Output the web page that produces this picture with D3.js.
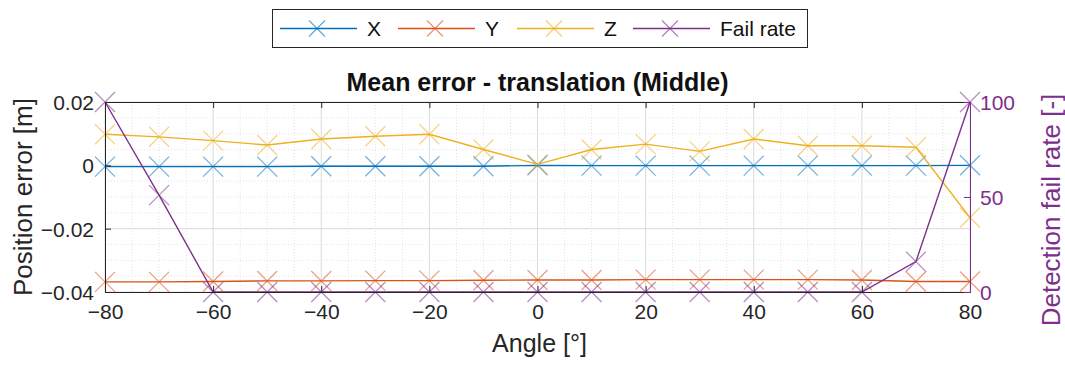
<!DOCTYPE html>
<html>
<head>
<meta charset="utf-8">
<script src="https://cdn.jsdelivr.net/npm/d3@7"></script>
<style>
  html, body { margin: 0; padding: 0; background: #fff; }
  svg { display: block; font-family: "Liberation Sans", Arial, sans-serif; }
</style>
</head>
<body>
<svg id="chart" width="1065" height="372"></svg>
<script>
// Angles (degrees) at which the mean errors were measured
const angles = [-80, -70, -60, -50, -40, -30, -20, -10, 0, 10, 20, 30, 40, 50, 60, 70, 80];

// Mean translation error per axis [m]
const errX = [-0.0004, -0.0004, -0.0004, -0.0004, -0.0003, -0.0003, -0.0003, -0.0003, 0.0, -0.0001, -0.0001, -0.0001, -0.0001, -0.0001, -0.0001, -0.0001, 0.0];
const errY = [-0.0368, -0.0368, -0.0367, -0.0365, -0.0365, -0.0364, -0.0364, -0.0363, -0.0362, -0.0362, -0.0361, -0.0361, -0.0361, -0.0361, -0.0362, -0.0367, -0.0367];
const errZ = [0.0098, 0.0090, 0.0078, 0.0064, 0.0083, 0.0092, 0.0098, 0.0050, 0.0003, 0.0050, 0.0067, 0.0044, 0.0083, 0.0062, 0.0062, 0.0057, -0.0165];

// Detection fail rate per angle [%]
const failRate = [100, 51, 0, 0, 0, 0, 0, 0, 0, 0, 0, 0, 0, 0, 0, 16, 100];

// Axis ticks
const xTicks = [-80, -60, -40, -20, 0, 20, 40, 60, 80];
const yLeftTicks = [-0.04, -0.02, 0, 0.02];
const yRightTicks = [0, 50, 100];

const legendLabels = ["X", "Y", "Z", "Fail rate"];
const colors = ["#0072BD", "#D95319", "#EDB120", "#7E2F8E"];

const svg = d3.select("#chart");
const L = 105, R = 970, T = 102, B = 292;
const FONT = "Liberation Sans, Arial, sans-serif";

const x = d3.scaleLinear().domain([-80, 80]).range([L, R]);
const yL = d3.scaleLinear().domain([-0.04, 0.02]).range([B, T]);
const yR = d3.scaleLinear().domain([0, 100]).range([B, T]);

// Plot background
svg.append("rect").attr("x", L).attr("y", T).attr("width", R - L).attr("height", B - T).attr("fill", "#fff");

// Minor grid
const grid = svg.append("g");
d3.range(-80, 80.1, 5).filter(v => v % 20 !== 0).forEach(v => {
  grid.append("line").attr("x1", x(v)).attr("x2", x(v)).attr("y1", T).attr("y2", B)
    .attr("stroke", "#e4e4e4").attr("stroke-width", 1).attr("stroke-dasharray", "1,2");
});
d3.range(-0.04, 0.0201, 0.005).forEach(v => {
  const r = Math.round(v * 1000) / 1000;
  if (Math.abs(Math.round(r / 0.02) * 0.02 - r) < 1e-9) return;
  grid.append("line").attr("x1", L).attr("x2", R).attr("y1", yL(r)).attr("y2", yL(r))
    .attr("stroke", "#e4e4e4").attr("stroke-width", 1).attr("stroke-dasharray", "1,2");
});
// Major grid
xTicks.forEach(v => {
  grid.append("line").attr("x1", x(v)).attr("x2", x(v)).attr("y1", T).attr("y2", B)
    .attr("stroke", "#dadada").attr("stroke-width", 1);
});
yLeftTicks.forEach(v => {
  grid.append("line").attr("x1", L).attr("x2", R).attr("y1", yL(v)).attr("y2", yL(v))
    .attr("stroke", "#dadada").attr("stroke-width", 1);
});

// Series drawing: line plus 'x' markers
function drawSeries(values, yScale, color) {
  const g = svg.append("g");
  const pts = angles.map((a, i) => [a, values[i]]);
  g.append("path")
    .datum(pts)
    .attr("fill", "none")
    .attr("stroke", color)
    .attr("stroke-width", 1.4)
    .attr("d", d3.line().x(d => x(d[0])).y(d => yScale(d[1])));
  const s = 10;
  g.selectAll("path.mk").data(pts).join("path")
    .attr("class", "mk")
    .attr("d", d => {
      const cx = x(d[0]), cy = yScale(d[1]);
      return `M${cx - s},${cy - s}L${cx + s},${cy + s}M${cx - s},${cy + s}L${cx + s},${cy - s}`;
    })
    .attr("stroke", color).attr("stroke-width", 1.3).attr("stroke-opacity", 0.55).attr("fill", "none");
}
drawSeries(errX, yL, colors[0]);
drawSeries(errY, yL, colors[1]);
drawSeries(errZ, yL, colors[2]);
drawSeries(failRate, yR, colors[3]);

// Axes
const fs = 21;
const axBottom = d3.axisBottom(x).tickValues(xTicks).tickSize(-6).tickPadding(12).tickFormat(d3.format("d"));
const gB = svg.append("g").attr("transform", `translate(0,${B})`).call(axBottom);
const axTop = d3.axisTop(x).tickValues(xTicks).tickSize(-6).tickFormat("");
const gT = svg.append("g").attr("transform", `translate(0,${T})`).call(axTop);
const axLeft = d3.axisLeft(yL).tickValues(yLeftTicks).tickSize(-6).tickPadding(11)
  .tickFormat(d => d === 0 ? "0" : d3.format(".2f")(d));
const gL = svg.append("g").attr("transform", `translate(${L},0)`).call(axLeft);
const axRight = d3.axisRight(yR).tickValues(yRightTicks).tickSize(-6).tickPadding(10).tickFormat(d3.format("d"));
const gR = svg.append("g").attr("transform", `translate(${R},0)`).call(axRight);

[gB, gT, gL].forEach(g => {
  g.selectAll("path.domain").attr("stroke", "#262626").attr("stroke-width", 1);
  g.selectAll(".tick line").attr("stroke", "#262626");
  g.selectAll("text").attr("font-size", fs).attr("fill", "#262626").attr("font-family", FONT);
});
gR.selectAll("path.domain").attr("stroke", colors[3]).attr("stroke-width", 1);
gR.selectAll(".tick line").attr("stroke", colors[3]);
gR.selectAll("text").attr("font-size", fs).attr("fill", colors[3]).attr("font-family", FONT);
gL.selectAll("text").attr("dy", "0.35em");
gR.selectAll("text").attr("dy", "0.35em");
gB.selectAll("text").attr("dy", "0.71em");

// Title and axis labels
svg.append("text").attr("x", (L + R) / 2).attr("y", 91).attr("text-anchor", "middle")
  .attr("font-size", 25).attr("font-weight", "bold").attr("fill", "#111")
  .text("Mean error - translation (Middle)");
svg.append("text").attr("x", (L + R) / 2 + 2).attr("y", 352).attr("text-anchor", "middle")
  .attr("font-size", 25).attr("fill", "#262626").text("Angle [°]");
svg.append("text").attr("transform", `translate(32,${(T + B) / 2}) rotate(-90)`).attr("text-anchor", "middle")
  .attr("font-size", 26).attr("fill", "#262626").text("Position error [m]");
svg.append("text").attr("transform", `translate(1060,210) rotate(-90)`).attr("text-anchor", "middle")
  .attr("font-size", 26).attr("fill", colors[3]).text("Detection fail rate [-]");

// Legend
const leg = svg.append("g");
leg.append("rect").attr("x", 272.5).attr("y", 9.5).attr("width", 535).attr("height", 38)
  .attr("fill", "#fff").attr("stroke", "#262626").attr("stroke-width", 1);
const legX = [280, 398, 517, 633];
legendLabels.forEach((lab, i) => {
  const x0 = legX[i], cy = 28.5, s = 8;
  leg.append("line").attr("x1", x0).attr("x2", x0 + 77).attr("y1", cy).attr("y2", cy)
    .attr("stroke", colors[i]).attr("stroke-width", 1.4);
  const cx = x0 + 37;
  leg.append("path").attr("d", `M${cx - s},${cy - s}L${cx + s},${cy + s}M${cx - s},${cy + s}L${cx + s},${cy - s}`)
    .attr("stroke", colors[i]).attr("stroke-width", 1.3).attr("stroke-opacity", 0.6);
  leg.append("text").attr("x", x0 + 87).attr("y", cy).attr("dy", "0.36em")
    .attr("font-size", fs).attr("fill", "#111").attr("font-family", FONT).text(lab);
});
</script>
</body>
</html>
